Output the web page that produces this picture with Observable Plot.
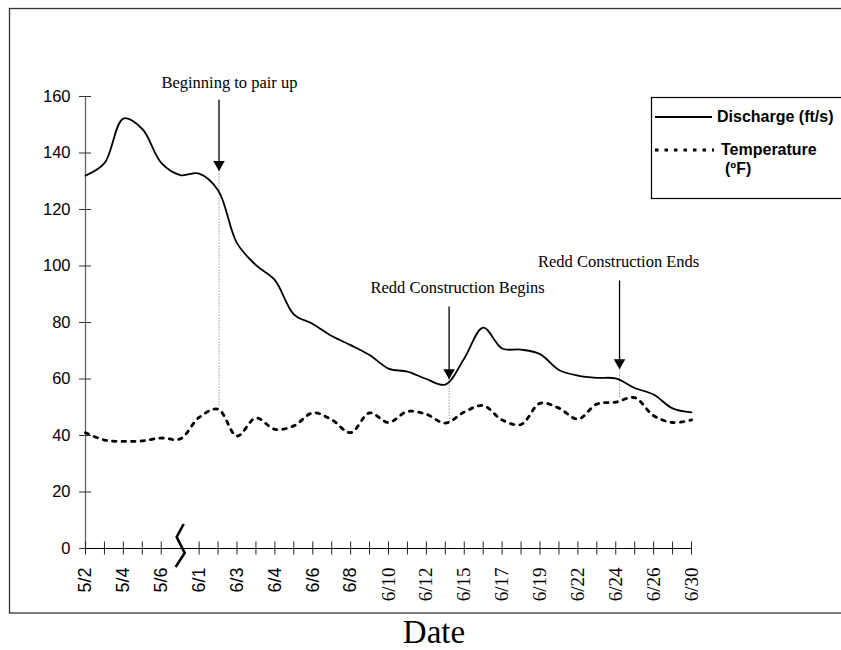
<!DOCTYPE html>
<html>
<head>
<meta charset="utf-8">
<script src="https://cdn.jsdelivr.net/npm/d3@7"></script>
<script src="https://cdn.jsdelivr.net/npm/@observablehq/plot@0.6"></script>
<style>
  html, body { margin: 0; padding: 0; background: #fff; overflow: hidden; }
</style>
</head>
<body>
<div id="chart"></div>
<script>
// Category axis: one slot per reading; only every other slot carries a date label.
// Slot 5 is the axis break between early May and June.
const tickLabels = ["5/2", "", "5/4", "", "5/6", "", "6/1", "", "6/3", "", "6/4", "",
  "6/6", "", "6/8", "", "6/10", "", "6/12", "", "6/15", "", "6/17", "", "6/19", "",
  "6/22", "", "6/24", "", "6/26", "", "6/30"];
const breakIndex = 5;

// Discharge (ft/s)
const discharge = [132, 136.4, 152.2, 148.5, 136.5, 132.2, 132.7, 126.8, 108.1, 100.3, 95,
  82.9, 79.5, 75.2, 72, 68.5, 63.7, 62.6, 60, 58, 67.3, 78.2, 70.8, 70.4, 68.8, 63.2,
  61.2, 60.4, 60.2, 56.8, 54.5, 49.6, 48.2];

// Temperature (°F)
const temperature = [41, 38.4, 37.9, 38.1, 39.1, 38.8, 46.4, 49.3, 39.8, 46.2, 42.2,
  43.4, 48, 45.6, 41, 48, 44.6, 48.5, 47.5, 44.4, 48.3, 50.6, 45.5, 43.9, 51.4, 49.7,
  45.8, 51.1, 51.8, 53.4, 47, 44.6, 45.5];

const yTicks = [0, 20, 40, 60, 80, 100, 120, 140, 160];

// Spawning events marked on the chart
const eventLabels = ["Beginning to pair up", "Redd Construction Begins", "Redd Construction Ends"];
const eventIndex = [7.05, 19.2, 28.2];
const eventLabelIndex = [7.6, 19.65, 28.15];
const eventLabelValue = [164.8, 92.2, 101.4];
const eventArrowTop = [158.7, 85.5, 94.7];
const eventArrowTip = [133.7, 60, 63.5];
const eventDropBottom = [49.4, 44.2, 53.3];

const seriesNames = ["Discharge (ft/s)", "Temperature", "(ºF)"];
const axisTitle = "Date";

const rows = discharge.map((d, i) => ({i, discharge: d, temperature: temperature[i]}));
const events = eventLabels.map((label, k) => ({
  label,
  x: eventIndex[k],
  labelX: eventLabelIndex[k],
  labelY: eventLabelValue[k],
  top: eventArrowTop[k],
  tip: eventArrowTip[k],
  bottom: eventDropBottom[k]
}));

const allIdx = d3.range(tickLabels.length);
const tickIdx = allIdx.filter(i => i !== breakIndex);
const sansIdx = allIdx.filter(i => tickLabels[i] && i < 16);
const serifIdx = allIdx.filter(i => tickLabels[i] && i >= 16);

const dash = "3.5,6";

const plot = Plot.plot({
  width: 841,
  height: 650,
  marginLeft: 85,
  marginRight: 150,
  marginTop: 96,
  marginBottom: 102,
  x: {domain: [0, tickLabels.length - 1]},
  y: {domain: [0, 160]},
  style: {background: "white", fontFamily: "Liberation Sans, Arial, sans-serif", overflow: "visible"},
  marks: [
    // y axis
    Plot.ruleX([0], {y1: 0, y2: 160, stroke: "#666", strokeWidth: 1.3}),
    Plot.axisY(yTicks, {anchor: "left", tickSize: 12, dx: 6, fill: "none", stroke: "#333"}),
    Plot.axisY(yTicks, {anchor: "left", tickSize: 0, tickPadding: 15, fontSize: 16.5,
      fontFamily: "Liberation Sans, Arial, sans-serif", fill: "#000"}),
    // x axis
    Plot.ruleY([0], {x1: 0, x2: tickLabels.length - 1, stroke: "#000", strokeWidth: 1.2}),
    Plot.axisX(tickIdx, {anchor: "bottom", tickSize: 13, dy: -6.5, fill: "none", stroke: "#222"}),
    Plot.axisX(sansIdx, {anchor: "bottom", tickSize: 0, tickRotate: -90, tickPadding: 19,
      tickFormat: i => tickLabels[i], fontSize: 18, fontFamily: "Liberation Sans, Arial, sans-serif", fill: "#000"}),
    Plot.axisX(serifIdx, {anchor: "bottom", tickSize: 0, tickRotate: -90, tickPadding: 19,
      tickFormat: i => tickLabels[i], fontSize: 19, fontFamily: "Liberation Serif, Times New Roman, serif", fill: "#000"}),
    // drop lines from each event arrow down to the temperature trace
    Plot.ruleX(events, {x: "x", y1: "tip", y2: "bottom", stroke: "#999", strokeWidth: 1, strokeDasharray: "1.5,1.5"}),
    // series
    Plot.line(rows, {x: "i", y: "temperature", curve: "catmull-rom", stroke: "#000",
      strokeWidth: 2.8, strokeDasharray: dash}),
    Plot.line(rows, {x: "i", y: "discharge", curve: "catmull-rom", stroke: "#000", strokeWidth: 1.8}),
    // event arrows
    Plot.ruleX(events, {x: "x", y1: "top", y2: "tip", stroke: "#000", strokeWidth: 1.3}),
    Plot.dot(events, {x: "x", y: "tip", symbol: "triangle", r: 4.3, rotate: 180, fill: "#000",
      stroke: "none", dy: -6.5}),
    Plot.text(events, {x: "labelX", y: "labelY", text: "label", fontFamily: "Liberation Serif, Times New Roman, serif",
      fontSize: 16.5, fill: "#000"})
  ]
});

const svg = d3.select(plot);
const xs = plot.scale("x"), ys = plot.scale("y");

// axis break symbol
const bx = xs.apply(breakIndex), by = ys.apply(0);
svg.append("polyline")
  .attr("points", [[bx + 4, by - 24], [bx - 3, by - 11], [bx + 5, by + 5], [bx - 4, by + 19]].map(p => p.join(",")).join(" "))
  .attr("fill", "none").attr("stroke", "#000").attr("stroke-width", 2.6);

// outer frame
svg.append("rect")
  .attr("x", 9.5).attr("y", 8.5).attr("width", 860).attr("height", 604.5)
  .attr("fill", "none").attr("stroke", "#333").attr("stroke-width", 1.3);

// legend
const lg = svg.append("g");
lg.append("rect").attr("x", 651.5).attr("y", 97.5).attr("width", 220).attr("height", 101)
  .attr("fill", "#fff").attr("stroke", "#000").attr("stroke-width", 1.2);
lg.append("line").attr("x1", 655).attr("x2", 712).attr("y1", 117).attr("y2", 117)
  .attr("stroke", "#000").attr("stroke-width", 1.8);
lg.append("line").attr("x1", 655).attr("x2", 714).attr("y1", 150).attr("y2", 150)
  .attr("stroke", "#000").attr("stroke-width", 2.8).attr("stroke-dasharray", dash);
const legendText = lg.append("g").attr("font-family", "Liberation Sans, Arial, sans-serif")
  .attr("font-weight", "bold").attr("font-size", 16).attr("fill", "#000")
  .attr("text-anchor", "start");
legendText.append("text").attr("x", 717).attr("y", 122).text(seriesNames[0]);
legendText.append("text").attr("x", 721).attr("y", 155).text(seriesNames[1]);
legendText.append("text").attr("x", 725).attr("y", 174).text(seriesNames[2]);

// x axis title
svg.append("text").attr("x", 434).attr("y", 643).attr("text-anchor", "middle")
  .attr("font-family", "Liberation Serif, Times New Roman, serif").attr("font-size", 33)
  .attr("fill", "#000").text(axisTitle);

document.getElementById("chart").appendChild(plot);
</script>
</body>
</html>
